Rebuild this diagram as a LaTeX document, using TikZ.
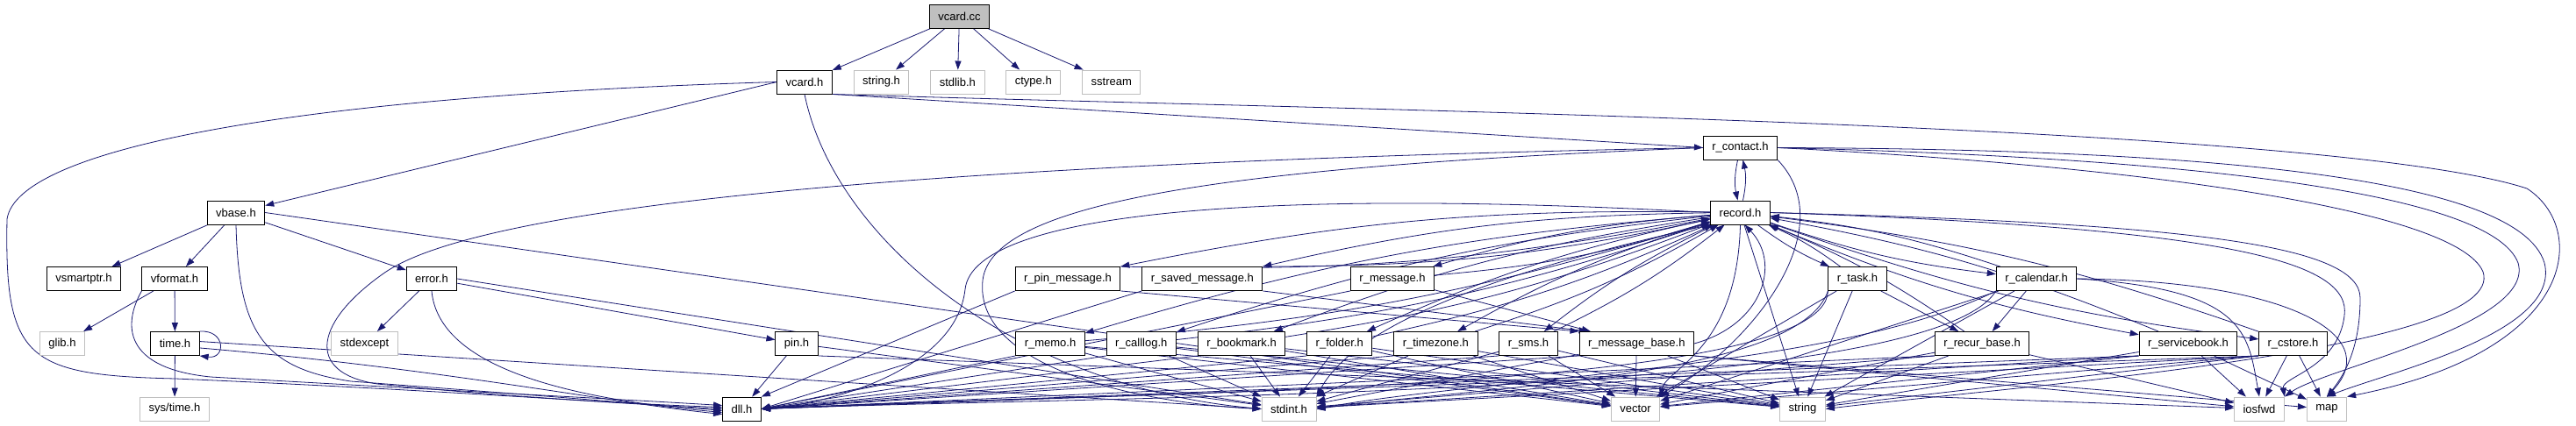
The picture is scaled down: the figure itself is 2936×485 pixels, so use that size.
\documentclass[tikz,border=0pt]{standalone}
\usepackage{fontspec}
\setmainfont{Liberation Sans}
\usetikzlibrary{arrows.meta,positioning}
\pgfdeclarelayer{edges}
\pgfsetlayers{edges,main}
\definecolor{edgeblue}{HTML}{191970}
\definecolor{sysborder}{HTML}{BFBFBF}
\definecolor{currentgrey}{HTML}{BFBFBF}

\begin{document}
\begin{tikzpicture}[
  x=1pt, y=-1pt,
  font=\fontsize{13}{15}\selectfont,
  header/.style={rectangle, draw=black, fill=white, line width=0.9pt, inner xsep=10pt, inner ysep=0pt, minimum height=27pt},
  syshdr/.style={header, draw=sysborder},
  current/.style={header, fill=currentgrey},
  incl/.style={-{Triangle[length=10pt, width=7pt]}, draw=edgeblue, line width=0.8pt},
  node distance=24pt
]
\useasboundingbox (0,0) rectangle (2936,485);

\node[current] (vcardcc) at (1093.5,18.5) {vcard.cc};
\node[header] (vcardh) at (917,93.5) {vcard.h};
\node[syshdr, right=of vcardh] (stringh) {string.h};
\node[syshdr, right=of stringh] (stdlibh) {stdlib.h};
\node[syshdr, right=of stdlibh] (ctypeh) {ctype.h};
\node[syshdr, right=of ctypeh] (sstream) {sstream};

\node[header] (rcontact) at (1983.5,168.5) {r\_contact.h};
\node[header] (vbase) at (269,242.5) {vbase.h};
\node[header] (record) at (1983.5,242.5) {record.h};

\node[header] (vsmartptr) at (95.5,318) {vsmartptr.h};
\node[header] (vformat) at (199,318) {vformat.h};
\node[header] (error) at (492,318) {error.h};
\node[header] (rpinmsg) at (1217,318) {r\_pin\_message.h};
\node[header, right=of rpinmsg] (rsavedmsg) {r\_saved\_message.h};
\node[header] (rmessage) at (1587,318) {r\_message.h};
\node[header] (rtask) at (2117,318) {r\_task.h};
\node[header] (rcalendar) at (2321,318) {r\_calendar.h};

\node[syshdr] (glib) at (71,392) {glib.h};
\node[header] (time) at (199.5,392) {time.h};
\node[syshdr] (stdexcept) at (415.5,392) {stdexcept};
\node[header] (pin) at (908,392) {pin.h};
\node[header] (rmemo) at (1197,392) {r\_memo.h};
\node[header, right=of rmemo] (rcalllog) {r\_calllog.h};
\node[header, right=of rcalllog] (rbookmark) {r\_bookmark.h};
\node[header, right=of rbookmark] (rfolder) {r\_folder.h};
\node[header, right=of rfolder] (rtimezone) {r\_timezone.h};
\node[header, right=of rtimezone] (rsms) {r\_sms.h};
\node[header, right=of rsms] (rmsgbase) {r\_message\_base.h};
\node[header] (rrecur) at (2259,392) {r\_recur\_base.h};
\node[header] (rservice) at (2494,392) {r\_servicebook.h};
\node[header] (rcstore) at (2613.5,392) {r\_cstore.h};

\node[syshdr] (systime) at (199,466.5) {sys/time.h};
\node[header] (dll) at (845.5,466.5) {dll.h};
\node[syshdr] (stdint) at (1469,466.5) {stdint.h};
\node[syshdr] (vector) at (1864,466.5) {vector};
\node[syshdr] (string) at (2054.5,466.5) {string};
\node[syshdr] (iosfwd) at (2575,466.5) {iosfwd};
\node[syshdr] (map) at (2652,466.5) {map};

\begin{pgfonlayer}{edges}
\draw[incl] (vcardcc) -- (vcardh);
\draw[incl] (vcardcc) -- (stringh);
\draw[incl] (vcardcc) -- (stdlibh);
\draw[incl] (vcardcc) -- (ctypeh);
\draw[incl] (vcardcc) -- (sstream);

\draw[incl] (vcardh.west) -- (vbase);
\draw[incl] (vcardh.south east) -- (rcontact.west);
\draw[incl] (vcardh.west) .. controls (330,110) and (20,170) .. (8,250) .. controls (5,410) and (30,428) .. (200,432) .. controls (500,445) and (700,460) .. (dll.west);
\draw[incl] (vcardh.south) .. controls (950,270) and (1150,440) .. (stdint.west);
\draw[incl] (vcardh.south east) .. controls (1500,125) and (2650,140) .. (2880,215) .. controls (2950,260) and (2940,400) .. (map.north east);

\draw[incl] (vbase) -- (vsmartptr);
\draw[incl] (vbase) -- (vformat);
\draw[incl] (vbase) -- (error);
\draw[incl] (vbase.south) .. controls (272,380) and (300,420) .. (400,435) .. controls (600,450) and (750,462) .. (dll.185);
\draw[incl] (vbase.east) -- (vector);

\draw[incl] (vformat) -- (glib);
\draw[incl] (vformat) -- (time);
\draw[incl] (vformat.south west) .. controls (140,370) and (140,420) .. (240,430) .. controls (500,445) and (700,455) .. (dll.170);

\draw[incl] (time.north east) .. controls +(30,-2) and +(30,4) .. (time.south east);
\draw[incl] (time) -- (systime);
\draw[incl] (time.-10) .. controls (500,420) and (700,460) .. (dll.195);
\draw[incl] (time.5) -- (stdint.west);

\draw[incl] (error) -- (stdexcept);
\draw[incl] (error) -- (pin);
\draw[incl] (error.south) .. controls (500,420) and (650,455) .. (dll.190);
\draw[incl] (error.east) -- (stdint);

\draw[incl] (pin) -- (dll);
\draw[incl] (pin) -- (stdint);
\draw[incl] (pin.south east) -- (iosfwd);

\draw[incl] (rcontact) to[bend right=12] (record);
\draw[incl] (record) to[bend right=12] (rcontact);
\draw[incl] (rcontact.west) .. controls (1100,185) and (560,230) .. (440,310) .. controls (360,365) and (345,425) .. (430,438) .. controls (600,455) and (750,462) .. (dll.175);
\draw[incl] (rcontact.west) .. controls (1400,190) and (1130,230) .. (1120,320) .. controls (1110,420) and (1300,460) .. (stdint.west);
\draw[incl] (rcontact.south east) .. controls (2100,260) and (2000,390) .. (vector.north east);
\draw[incl] (rcontact.east) .. controls (2500,170) and (2870,200) .. (2900,300) .. controls (2920,380) and (2720,425) .. (map.north);
\draw[incl] (rcontact.east) .. controls (2500,180) and (2840,220) .. (2870,300) .. controls (2890,370) and (2650,420) .. (iosfwd.north east);
\draw[incl] (rcontact.east) .. controls (2450,190) and (2800,240) .. (2830,310) .. controls (2860,400) and (2300,440) .. (string.east);

\draw[incl] (record.west) .. controls (1450,215) and (1110,240) .. (1100,330) .. controls (1090,420) and (950,460) .. (dll.east);
\draw[incl] (record.south west) .. controls (1750,300) and (1550,360) .. (stdint.north east);
\draw[incl] (record.south) .. controls (1980,400) and (1900,420) .. (vector.north east);
\draw[incl] (record) -- (string);
\draw[incl] (record.east) .. controls (2550,260) and (2680,300) .. (2672,360) .. controls (2665,420) and (2600,430) .. (iosfwd.north east);
\draw[incl] (record.east) .. controls (2500,255) and (2690,280) .. (2690,340) .. controls (2690,400) and (2670,430) .. (map.north);

\draw[incl] (record) to[bend right=6] (rpinmsg.north east);
\draw[incl] (rpinmsg.north east) to[bend right=6] (record);
\draw[incl] (record) to[bend right=6] (rsavedmsg.north east);
\draw[incl] (rsavedmsg.north east) to[bend right=6] (record);
\draw[incl] (record) to[bend right=6] (rmessage);
\draw[incl] (rmessage) to[bend right=6] (record);
\draw[incl] (record) to[bend right=6] (rmemo);
\draw[incl] (rmemo) to[bend right=6] (record);
\draw[incl] (record) to[bend right=6] (rcalllog);
\draw[incl] (rcalllog) to[bend right=6] (record);
\draw[incl] (record) to[bend right=6] (rbookmark);
\draw[incl] (rbookmark) to[bend right=6] (record);
\draw[incl] (record) to[bend right=6] (rfolder);
\draw[incl] (rfolder) to[bend right=6] (record);
\draw[incl] (record) to[bend right=6] (rtimezone);
\draw[incl] (rtimezone) to[bend right=6] (record);
\draw[incl] (record) to[bend right=6] (rsms);
\draw[incl] (rsms) to[bend right=6] (record);
\draw[incl] (record) to[bend right=6] (rtask);
\draw[incl] (rtask) to[bend right=6] (record);
\draw[incl] (record) to[bend right=6] (rcalendar);
\draw[incl] (rcalendar) to[bend right=6] (record);
\draw[incl] (record) to[bend right=6] (rservice);
\draw[incl] (rservice) to[bend right=6] (record);
\draw[incl] (record) to[bend right=6] (rcstore);
\draw[incl] (rcstore) to[bend right=6] (record);
\draw[incl] (rrecur) to[bend right=6] (record);
\draw[incl] (rmsgbase.east) .. controls (2010,370) and (2030,300) .. (record.-70);

\draw[incl] (rpinmsg.south east) -- (rmsgbase.north west);
\draw[incl] (rsavedmsg.south east) -- ([xshift=10pt]rmsgbase.north west);
\draw[incl] (rmessage) -- (rmsgbase);
\draw[incl] (rpinmsg.south west) -- (dll.north east);
\draw[incl] (rsavedmsg.south west) -- (dll.east);
\draw[incl] (rmessage.south west) -- (dll.east);

\draw[incl] (rmemo.south west) -- (dll.east);
\draw[incl] (rmemo) -- (stdint);
\draw[incl] (rmemo) -- (vector);
\draw[incl] (rmemo) -- (string);
\draw[incl] (rcalllog.south west) -- (dll.east);
\draw[incl] (rcalllog) -- (stdint);
\draw[incl] (rcalllog) -- (vector);
\draw[incl] (rcalllog) -- (string);
\draw[incl] (rbookmark.south west) -- (dll.east);
\draw[incl] (rbookmark) -- (stdint);
\draw[incl] (rbookmark) -- (vector);
\draw[incl] (rbookmark) -- (string);
\draw[incl] (rfolder.south west) -- (dll.east);
\draw[incl] (rfolder) -- (stdint);
\draw[incl] (rfolder) -- (vector);
\draw[incl] (rfolder) -- (string);
\draw[incl] (rtimezone.south west) -- (dll.east);
\draw[incl] (rtimezone) -- (stdint);
\draw[incl] (rtimezone) -- (vector);
\draw[incl] (rtimezone) -- (string);
\draw[incl] (rsms.south west) -- (dll.east);
\draw[incl] (rsms) -- (stdint);
\draw[incl] (rsms) -- (vector);
\draw[incl] (rsms) -- (string);
\draw[incl] (rmsgbase.south west) -- (dll.east);
\draw[incl] (rmsgbase) -- (stdint);
\draw[incl] (rmsgbase) -- (vector);
\draw[incl] (rmsgbase) -- (string);
\draw[incl] (rmsgbase.south east) -- (iosfwd);
\draw[incl] (rmsgbase.south east) -- (map);

\draw[incl] (rtask) -- (rrecur);
\draw[incl] (rtask.south west) .. controls (2080,450) and (1300,445) .. (dll.east);
\draw[incl] (rtask.south west) .. controls (2050,430) and (1700,440) .. (stdint.east);
\draw[incl] (rtask) -- (vector);
\draw[incl] (rtask) -- (string);
\draw[incl] (rcalendar) -- (rrecur);
\draw[incl] (rcalendar.south west) .. controls (2200,455) and (1300,450) .. (dll.east);
\draw[incl] (rcalendar.south west) .. controls (2100,420) and (1700,430) .. (stdint.east);
\draw[incl] (rcalendar) -- (vector);
\draw[incl] (rcalendar) -- (string);
\draw[incl] (rcalendar.east) .. controls (2560,330) and (2562,380) .. (iosfwd.north);
\draw[incl] (rcalendar.east) .. controls (2600,320) and (2720,380) .. (map.north);

\draw[incl] (rrecur.south west) -- (dll.east);
\draw[incl] (rrecur.south west) -- (stdint);
\draw[incl] (rrecur) -- (vector);
\draw[incl] (rrecur) -- (string);
\draw[incl] (rrecur) -- (iosfwd);

\draw[incl] (rservice.south west) -- (dll.east);
\draw[incl] (rservice.south west) -- (stdint);
\draw[incl] (rservice.south west) -- (vector);
\draw[incl] (rservice) -- (string);
\draw[incl] (rservice) -- (iosfwd);
\draw[incl] (rservice) -- (map);

\draw[incl] (rcstore.south west) -- (dll.east);
\draw[incl] (rcstore.south west) -- (stdint);
\draw[incl] (rcstore.south west) -- (vector);
\draw[incl] (rcstore.south west) -- (string);
\draw[incl] (rcstore) -- (iosfwd);
\draw[incl] (rcstore) -- (map);
\end{pgfonlayer}

\end{tikzpicture}
\end{document}
